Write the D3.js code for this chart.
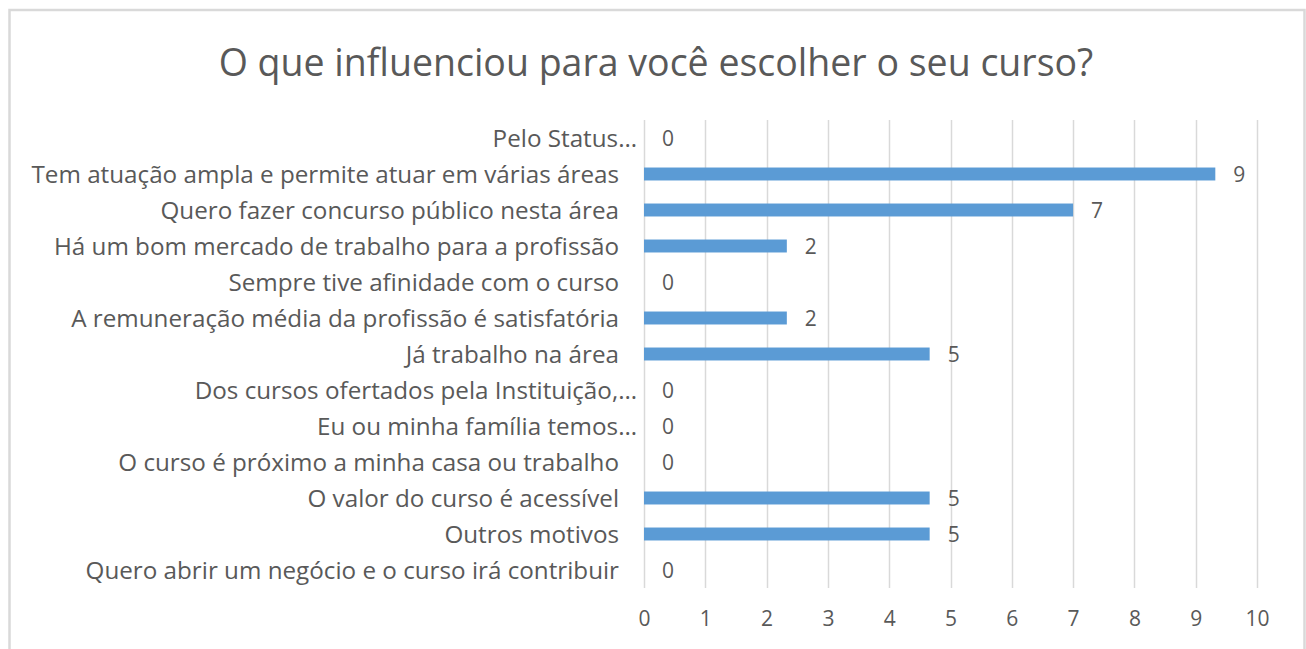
<!DOCTYPE html>
<html>
<head>
<meta charset="utf-8">
<script src="https://cdn.jsdelivr.net/npm/d3@7"></script>
<style>
  html, body { margin: 0; padding: 0; background: #ffffff; }
  svg { display: block; }
</style>
</head>
<body>
<svg id="chart" width="1306" height="649"></svg>
<script>
const title = "O que influenciou para você escolher o seu curso?";
const categories = [
  "Pelo Status…",
  "Tem atuação ampla e permite atuar em várias áreas",
  "Quero fazer concurso público nesta área",
  "Há um bom mercado de trabalho para a profissão",
  "Sempre tive afinidade com o curso",
  "A remuneração média da profissão é satisfatória",
  "Já trabalho na área",
  "Dos cursos ofertados pela Instituição,…",
  "Eu ou minha família temos…",
  "O curso é próximo a minha casa ou trabalho",
  "O valor do curso é acessível",
  "Outros motivos",
  "Quero abrir um negócio e o curso irá contribuir"
];
// bar lengths as drawn in the picture
const values = [0, 9.32, 7, 2.33, 0, 2.33, 4.66, 0, 0, 0, 4.66, 4.66, 0];
// data labels as printed in the picture
const dataLabels = ["0", "9", "7", "2", "0", "2", "5", "0", "0", "0", "5", "5", "0"];
const tickValues = [0, 1, 2, 3, 4, 5, 6, 7, 8, 9, 10];

const FONT = "'Open Sans', 'Noto Sans', sans-serif";
const TEXT = "#595959";
const GRID = "#D9D9D9";
const BAR = "#5B9BD5";

const svg = d3.select("#chart");

// chart border
svg.append("rect")
  .attr("x", 9.5).attr("y", 10)
  .attr("width", 1295).attr("height", 660)
  .attr("fill", "#ffffff")
  .attr("stroke", GRID).attr("stroke-width", 2.5);

const x = d3.scaleLinear().domain([0, 10]).range([644, 1257]);
const y = d3.scaleBand().domain(categories).range([120, 588]).paddingInner(0.64).paddingOuter(0.32);

function fitSize(sel, target, base) {
  sel.attr("font-size", base);
  const w = sel.node().getComputedTextLength();
  sel.attr("font-size", base * target / w);
  return base * target / w;
}

// title
const t = svg.append("text")
  .attr("x", 656).attr("y", 76)
  .attr("text-anchor", "middle")
  .attr("font-family", FONT)
  .attr("fill", TEXT)
  .text(title);
fitSize(t, 875, 30);

// gridlines
svg.append("g").selectAll("line")
  .data(tickValues)
  .join("line")
  .attr("x1", d => Math.round(x(d)) + 0.5)
  .attr("x2", d => Math.round(x(d)) + 0.5)
  .attr("y1", 120).attr("y2", 588)
  .attr("stroke", GRID).attr("stroke-width", 1.5);

// x axis (tick labels)
const xAxis = d3.axisBottom(x).tickValues(tickValues).tickSize(0).tickPadding(0).tickFormat(d3.format("d"));
const gx = svg.append("g").attr("transform", "translate(0,611)").call(xAxis);
gx.select(".domain").remove();
gx.selectAll("text")
  .attr("font-family", FONT)
  .attr("font-size", 21)
  .attr("fill", TEXT)
  .attr("dy", "0.71em");

// y axis labels
const yAxis = d3.axisLeft(y).tickSize(0).tickPadding(0);
const gy = svg.append("g").attr("transform", "translate(619,0)").call(yAxis);
gy.select(".domain").remove();
const ylabels = gy.selectAll("text")
  .attr("font-family", FONT)
  .attr("fill", TEXT)
  .attr("dy", "0.36em")
  .attr("x", d => d.endsWith("…") ? 18 : 0);
// size labels so the longest matches the picture width
const longest = gy.selectAll("text").filter(d => d === categories[1]);
const fs = fitSize(longest, 588, 18);
ylabels.attr("font-size", fs);

// bars
svg.append("g").selectAll("rect")
  .data(categories)
  .join("rect")
  .attr("x", x(0))
  .attr("y", d => y(d))
  .attr("width", (d, i) => x(values[i]) - x(0))
  .attr("height", y.bandwidth())
  .attr("fill", BAR);

// data labels
svg.append("g").selectAll("text")
  .data(categories)
  .join("text")
  .attr("x", (d, i) => x(values[i]) + 18)
  .attr("y", d => y(d) + y.bandwidth() / 2)
  .attr("dy", "0.36em")
  .attr("font-family", FONT)
  .attr("font-size", 21)
  .attr("fill", TEXT)
  .text((d, i) => dataLabels[i]);
</script>
</body>
</html>
